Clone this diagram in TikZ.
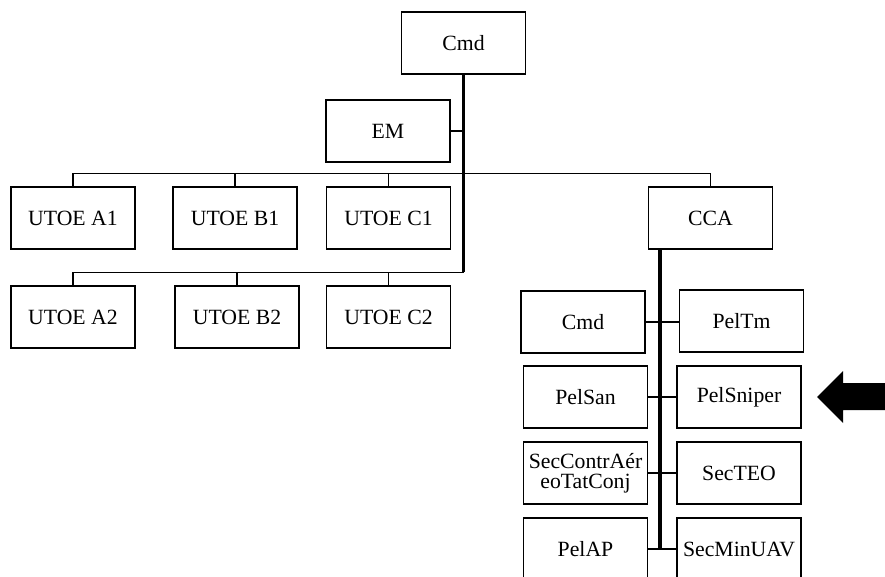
\documentclass[tikz,border=0pt]{standalone}
\usepackage{fontspec}
\setmainfont{Liberation Serif}
\usepackage{tikz}

\begin{document}
\begin{tikzpicture}[x=0.75pt,y=-0.75pt,
		unit/.style={draw, line width=0.8pt, rectangle, minimum width=93pt, minimum height=46.5pt,
			inner sep=1pt, align=center, font=\fontsize{16.3}{15}\selectfont},
		link/.style={line width=0.8pt},
		spine/.style={line width=2.3pt}]
	\useasboundingbox (0,0) rectangle (885,577);
	\clip (0,0) rectangle (885,577);

	% top of the structure
	\node[unit] (cmd) at (463.5,43) {Cmd};
	\node[unit] (em) at (388,131) {EM};

	\node[unit] (a1) at (73,218) {UTOE A1};
	\node[unit] (b1) at (235,218) {UTOE B1};
	\node[unit] (c1) at (388.5,218) {UTOE C1};
	\node[unit] (cca) at (710.5,218) {CCA};

	\node[unit] (a2) at (73,317) {UTOE A2};
	\node[unit] (b2) at (237,317) {UTOE B2};
	\node[unit] (c2) at (388.5,317) {UTOE C2};

	% CCA
	\node[unit] (ccacmd) at (583,322) {Cmd};
	\node[unit] (peltm) at (741.5,321) {PelTm};
	\node[unit] (pelsan) at (585.5,397) {PelSan};
	\node[unit] (pelsniper) at (739,397) {PelSniper};
	\node[unit] (secaer) at (585.5,473) {SecContrAér\\eoTatConj};
	\node[unit] (secteo) at (739,473) {SecTEO};
	\node[unit] (pelap) at (585.5,549) {PelAP};
	\node[unit] (secuav) at (739,549) {SecMinUAV};

	% links
	\draw[link] (em.east) -- (em.east -| cmd.south);
	\draw[link] (a1.north) -- ++(0,-13) -| (cca.north);
	\draw[link] (b1.north) -- ++(0,-13);
	\draw[link] (c1.north) -- ++(0,-13);
	\draw[link] (a2.north) -- ++(0,-13) coordinate (k2) -- (k2 -| cmd.south);
	\draw[link] (b2.north) -- ++(0,-13);
	\draw[link] (c2.north) -- ++(0,-13);
	\draw[spine] (cmd.south) -- (k2 -| cmd.south);

	\draw[link] (ccacmd.east) -- (ccacmd.east -| peltm.west);
	\draw[link] (pelsan.east) -- (pelsniper.west);
	\draw[link] (secaer.east) -- (secteo.west);
	\draw[link] (pelap.east) -- (secuav.west);
	\path (cca.south west) ++(12,0) coordinate (sp);
	\draw[spine] (sp) -- (sp |- pelap.east);

	% arrow
	\fill (817,397) -- (843,371) -- (843,383) -- (885,383) -- (885,410) -- (843,410) -- (843,423) -- cycle;
\end{tikzpicture}
\end{document}
